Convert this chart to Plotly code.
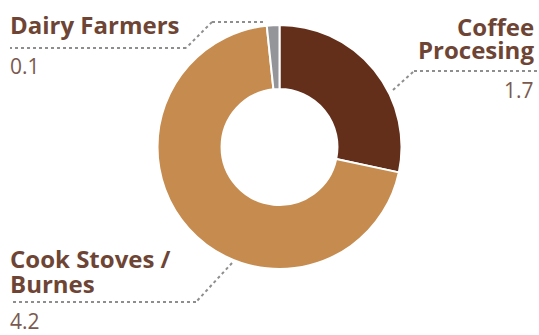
import plotly.graph_objects as go

# ---- data ----
categories = ["Coffee Procesing", "Cook Stoves / Burnes", "Dairy Farmers"]
values = [1.7, 4.2, 0.1]
value_labels = ["1.7", "4.2", "0.1"]
colors = ["#632F1A", "#C68B4E", "#939598"]

W, H = 539, 335
cx, cy, R = 279.5, 147, 122


def px(x):
    return x / W


def py(y):
    return 1 - y / H


fig = go.Figure(go.Pie(
    labels=categories,
    values=values,
    sort=False,
    direction="clockwise",
    rotation=0,
    hole=0.475,
    marker=dict(colors=colors, line=dict(color="white", width=2)),
    textinfo="none",
    hoverinfo="label+value",
    domain=dict(x=[px(cx - R), px(cx + R)], y=[py(cy + R), py(cy - R)]),
    showlegend=False,
))

TITLE = dict(family="Open Sans", size=24, color="#6E4535", weight="bold")
NUM = dict(family="Open Sans", size=21, color="#7A5A50")
LINE = dict(color="#8E8E8E", width=2, dash="dot")

# leader lines (pixel paths)
paths = [
    [(263, 22), (212, 22), (186, 48), (10, 48)],      # Dairy
    [(393, 90), (414, 71), (537, 71)],                # Coffee
    [(232, 263), (196, 302), (10, 302)],              # Cook stoves
]
for p in paths:
    for (x0, y0), (x1, y1) in zip(p[:-1], p[1:]):
        fig.add_shape(type="line", xref="paper", yref="paper",
                      x0=px(x0), y0=py(y0), x1=px(x1), y1=py(y1), line=LINE)

anns = [
    # text, x, y(center px), anchor, font
    ("Dairy Farmers", 8, 25, "left", TITLE),
    (value_labels[2], 8, 66, "left", NUM),
    ("Coffee", 536, 26, "right", TITLE),
    ("Procesing", 536, 49, "right", TITLE),
    (value_labels[0], 536, 90, "right", NUM),
    ("Cook Stoves /", 8, 258, "left", TITLE),
    ("Burnes", 8, 283, "left", TITLE),
    (value_labels[1], 8, 321, "left", NUM),
]
for t, x, y, a, f in anns:
    fig.add_annotation(text=t, x=px(x), y=py(y), xref="paper", yref="paper",
                       xanchor=a, yanchor="middle", showarrow=False, font=f)

fig.update_layout(width=W, height=H, margin=dict(l=0, r=0, t=0, b=0),
                  paper_bgcolor="white", plot_bgcolor="white")
fig.write_html("out.html")
